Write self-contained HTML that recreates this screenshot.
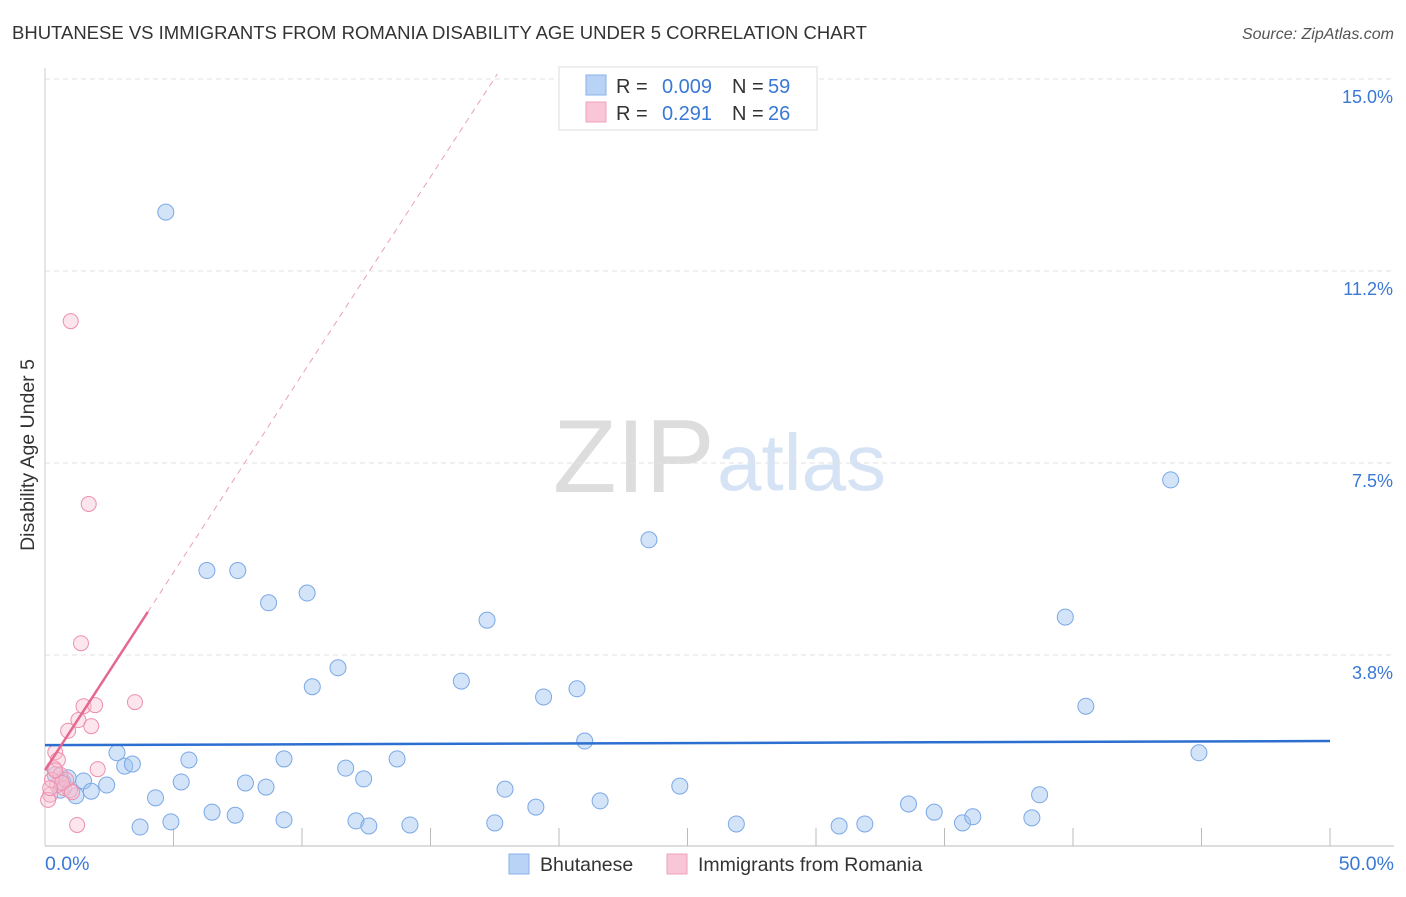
<!DOCTYPE html>
<html><head><meta charset="utf-8"><style>
body{margin:0;background:#fff;font-family:"Liberation Sans",sans-serif;}
svg text{font-family:"Liberation Sans",sans-serif;}
</style></head><body>
<svg id="chart" width="1406" height="892" xmlns="http://www.w3.org/2000/svg">
<text x="12" y="39" font-size="18.5" fill="#333">BHUTANESE VS IMMIGRANTS FROM ROMANIA DISABILITY AGE UNDER 5 CORRELATION CHART</text>
<text x="1394" y="39" font-size="16" fill="#555" font-style="italic" text-anchor="end">Source: ZipAtlas.com</text>
<text transform="translate(34,455) rotate(-90)" font-size="19.5" fill="#333" text-anchor="middle">Disability Age Under 5</text>
<text x="553" y="492" font-size="104" fill="#ddd" font-family="Liberation Serif">ZIP</text>
<text x="717" y="490" font-size="80" fill="#d5e3f5">atlas</text>
<g id="grid"></g><g id="marks"></g>
<g>
<rect x="559" y="67" width="258" height="63" fill="#fff" stroke="#ddd"/>
<rect x="586" y="75" width="20" height="20" fill="#b8d3f5" stroke="#8ab2e8"/>
<rect x="586" y="102" width="20" height="20" fill="#f8c6d6" stroke="#eea3bb"/>
<text x="616" y="93" font-size="20" fill="#333">R =</text>
<text x="712" y="93" font-size="20" fill="#3a78d6" text-anchor="end">0.009</text>
<text x="732" y="93" font-size="20" fill="#333">N =</text>
<text x="768" y="93" font-size="20" fill="#3a78d6">59</text>
<text x="616" y="120" font-size="20" fill="#333">R =</text>
<text x="712" y="120" font-size="20" fill="#3a78d6" text-anchor="end">0.291</text>
<text x="732" y="120" font-size="20" fill="#333">N =</text>
<text x="768" y="120" font-size="20" fill="#3a78d6">26</text>
</g>
<g>
<rect x="509" y="854" width="20" height="20" fill="#b8d3f5" stroke="#8ab2e8"/>
<text x="540" y="871" font-size="19.5" fill="#333">Bhutanese</text>
<rect x="667" y="854" width="20" height="20" fill="#f8c6d6" stroke="#eea3bb"/>
<text x="698" y="871" font-size="19.5" fill="#333">Immigrants from Romania</text>
</g>
</svg>
<script>
const yTicks=[3.75,7.5,11.25,15];
const yTickLabels=["3.8%","7.5%","11.2%","15.0%"];
const xTickLabels=["0.0%","50.0%"];
const bluePts=[[4.7,12.4],[43.8,7.17],[23.5,6.0],[6.3,5.4],[7.5,5.4],[8.7,4.77],[10.2,4.96],[17.2,4.43],[39.7,4.49],[11.4,3.5],[10.4,3.13],[16.2,3.24],[19.4,2.93],[20.7,3.09],[40.5,2.75],[21.0,2.07],[2.8,1.84],[3.1,1.58],[3.4,1.62],[5.6,1.70],[9.3,1.72],[13.7,1.72],[44.9,1.84],[11.7,1.54],[12.4,1.33],[5.3,1.27],[7.8,1.25],[8.6,1.17],[0.9,1.35],[0.7,1.27],[1.5,1.29],[2.4,1.21],[1.8,1.09],[1.2,1.00],[17.9,1.13],[24.7,1.19],[38.7,1.02],[4.3,0.96],[21.6,0.90],[19.1,0.78],[33.6,0.84],[34.6,0.68],[6.5,0.68],[7.4,0.62],[9.3,0.53],[12.1,0.51],[12.6,0.41],[14.2,0.43],[17.5,0.47],[4.9,0.49],[3.7,0.39],[26.9,0.45],[30.9,0.41],[31.9,0.45],[35.7,0.47],[36.1,0.59],[38.4,0.57],[0.4,1.41],[0.6,1.11]];
const pinkPts=[[1.0,10.27],[1.7,6.7],[1.4,3.98],[3.5,2.83],[1.5,2.75],[1.95,2.77],[1.3,2.48],[0.9,2.27],[1.8,2.36],[0.4,1.85],[0.35,1.54],[2.05,1.52],[0.6,1.41],[0.47,1.21],[0.75,1.15],[0.97,1.11],[0.2,1.02],[0.12,0.92],[1.25,0.43],[0.27,1.31],[0.82,1.31],[0.5,1.70],[0.66,1.25],[1.05,1.07],[0.2,1.15],[0.4,1.50]];
const blueLine=[1.99,2.07];
const pinkLine=[1.5,0,4.0,4.59];
const X=v=>45+v/50*1285, Y=v=>847-v*51.2;
const NS="http://www.w3.org/2000/svg";
const grid=document.getElementById('grid'),marks=document.getElementById('marks');
function mk(tag,attrs,parent){const e=document.createElementNS(NS,tag);for(const k in attrs)e.setAttribute(k,attrs[k]);parent.appendChild(e);return e;}
yTicks.forEach((t,i)=>{
 const l=mk('line',{x1:45,x2:1394,y1:Y(t),y2:Y(t),stroke:'#e2e2e2','stroke-dasharray':'5,4'},grid);
 
 
 const tx=mk('text',{x:1393,y:Y(t)+24,'font-size':18,fill:'#3a78d6','text-anchor':'end'},grid);tx.textContent=yTickLabels[i];
 
 
});
const ax=mk('line',{x1:45,x2:1394,y1:846,y2:846,stroke:'#bbb'},grid);


const ay=mk('line',{x1:45,x2:45,y1:68,y2:846,stroke:'#ccc'},grid);


for(let i=1;i<=10;i++){const t=mk('line',{x1:X(i*5),x2:X(i*5),y1:828,y2:846,stroke:'#bbb'},grid);
 
 }
[[0,'start',45],[50,'end',1394]].forEach((d,i)=>{const t=mk('text',{x:d[2],y:870,'font-size':19.5,fill:'#3a78d6','text-anchor':d[1]},grid);t.textContent=xTickLabels[i];
 
 });
bluePts.forEach(p=>{const c=mk('circle',{cx:X(p[0]),cy:Y(p[1]),r:8,fill:'rgba(160,196,240,0.45)',stroke:'#7aa8e6','stroke-width':1},marks);
 
 });
pinkPts.forEach(p=>{const c=mk('circle',{cx:X(p[0]),cy:Y(p[1]),r:7.5,fill:'rgba(248,190,208,0.4)',stroke:'#ec8fae','stroke-width':1},marks);
 
 });
const bl=mk('line',{x1:X(0),y1:Y(blueLine[0]),x2:X(50),y2:Y(blueLine[1]),stroke:'#2d6fd0','stroke-width':2.5},marks);


const slope=(pinkLine[3]-pinkLine[0])/pinkLine[2];
const xEnd=(15.1-pinkLine[0])/slope;
const pd=mk('line',{x1:X(pinkLine[2]),y1:Y(pinkLine[3]),x2:X(xEnd),y2:Y(pinkLine[0]+slope*xEnd),stroke:'#e8a0b8','stroke-width':1,'stroke-dasharray':'6,5'},marks);


const pl=mk('line',{x1:X(0),y1:Y(pinkLine[0]),x2:X(pinkLine[2]),y2:Y(pinkLine[3]),stroke:'#e4698f','stroke-width':2.5},marks);


</script>
</body></html>
